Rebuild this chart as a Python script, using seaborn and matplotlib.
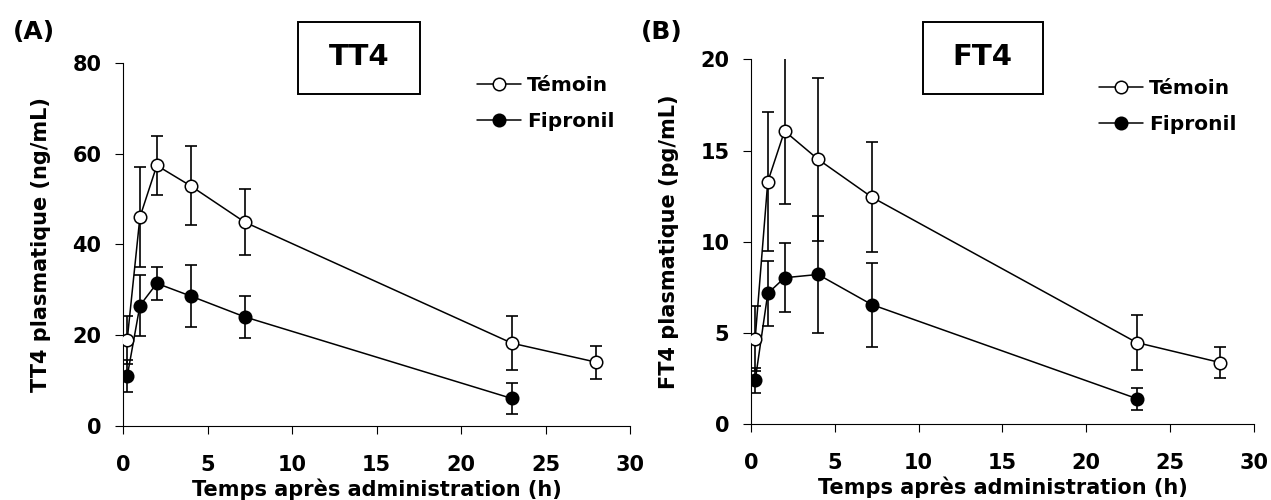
import numpy as np
import pandas as pd
import matplotlib
matplotlib.use("Agg")
import matplotlib.pyplot as plt
import seaborn as sns
from matplotlib.patches import Rectangle
from matplotlib.lines import Line2D

# ---------------- data ----------------
time_temoin = [0.25, 1, 2, 4, 7.2, 23, 28]
time_fipronil = [0.25, 1, 2, 4, 7.2, 23]

tt4_temoin = [19.0, 46.0, 57.4, 52.9, 44.9, 18.2, 14.0]
tt4_temoin_err = [5.3, 11.1, 6.6, 8.7, 7.3, 5.9, 3.6]
tt4_fipronil = [10.9, 26.5, 31.4, 28.6, 24.0, 6.0]
tt4_fipronil_err = [3.5, 6.7, 3.6, 6.8, 4.7, 3.5]

ft4_temoin = [4.70, 13.29, 16.07, 14.52, 12.45, 4.48, 3.38]
ft4_temoin_err = [1.8, 3.8, 4.0, 4.45, 3.0, 1.5, 0.85]
ft4_fipronil = [2.41, 7.17, 8.03, 8.21, 6.56, 1.41]
ft4_fipronil_err = [0.7, 1.8, 1.9, 3.2, 2.3, 0.6]

series_labels = ["Témoin", "Fipronil"]
panel_letters = ["(A)", "(B)"]
panel_titles = ["TT4", "FT4"]
ylabels = ["TT4 plasmatique (ng/mL)", "FT4 plasmatique (pg/mL)"]
xlabel = "Temps après administration (h)"
xticks = [0, 5, 10, 15, 20, 25, 30]
yticks_A = [0, 20, 40, 60, 80]
yticks_B = [0, 5, 10, 15, 20]

# ---------------- style ----------------
sns.set_style("ticks")
plt.rcParams["font.family"] = ["DejaVu Sans"]
plt.rcParams["font.weight"] = "bold"
plt.rcParams["axes.labelweight"] = "bold"
plt.rcParams["text.color"] = "black"
plt.rcParams["axes.labelcolor"] = "black"
plt.rcParams["xtick.color"] = "black"
plt.rcParams["ytick.color"] = "black"

W, H = 1271, 500
fig = plt.figure(figsize=(W / 100, H / 100), dpi=100)
fig.patch.set_facecolor("white")


def px(x0, y0, x1, y1):
    """pixel box (top-left origin) -> figure fraction [l, b, w, h]"""
    return [x0 / W, 1 - y1 / H, (x1 - x0) / W, (y1 - y0) / H]


axA = fig.add_axes(px(123, 63, 630.3, 425.7))
axB = fig.add_axes(px(751, 59.3, 1254, 424.3))

LW = 1.1
MS = 9


def draw(ax, tm, te, fm, fe, ylim, yticks, ylabel, ylab_x, xlab_y):
    df_t = pd.DataFrame({"t": time_temoin, "v": tm})
    df_f = pd.DataFrame({"t": time_fipronil, "v": fm})
    ax.errorbar(time_temoin, tm, yerr=te, fmt="none", ecolor="black",
                elinewidth=1.2, capsize=4.3, capthick=1.2, zorder=2)
    ax.errorbar(time_fipronil, fm, yerr=fe, fmt="none", ecolor="black",
                elinewidth=1.2, capsize=4.3, capthick=1.2, zorder=2)
    sns.lineplot(data=df_f, x="t", y="v", ax=ax, color="black", lw=LW,
                 marker="o", markersize=MS, markerfacecolor="black",
                 markeredgecolor="black", markeredgewidth=1.1, zorder=3,
                 legend=False)
    sns.lineplot(data=df_t, x="t", y="v", ax=ax, color="black", lw=LW,
                 marker="o", markersize=MS, markerfacecolor="white",
                 markeredgecolor="black", markeredgewidth=1.1, zorder=4,
                 legend=False)
    ax.set_xlim(0, 30)
    ax.set_ylim(*ylim)
    ax.set_xticks(xticks)
    ax.set_yticks(yticks)
    sns.despine(ax=ax)
    for s in ("left", "bottom"):
        ax.spines[s].set_linewidth(0.8)
        ax.spines[s].set_color("black")
    ax.tick_params(direction="out", length=5.5, width=0.8, color="black",
                   labelsize=15, labelcolor="black")
    ax.tick_params(axis="x", pad=15.5)
    ax.tick_params(axis="y", pad=10)
    for lab in ax.get_xticklabels() + ax.get_yticklabels():
        lab.set_fontweight("bold")
    ax.set_xlabel(xlabel, fontsize=15, fontweight="bold", va="center", color="black")
    ax.set_ylabel(ylabel, fontsize=15, fontweight="bold", va="center", color="black")
    ax.xaxis.set_label_coords(0.5, xlab_y)
    ax.yaxis.set_label_coords(ylab_x, 0.5)
    ax.set_facecolor("white")
    ax.grid(False)


draw(axA, tt4_temoin, tt4_temoin_err, tt4_fipronil, tt4_fipronil_err,
     (0, 80), yticks_A, ylabels[0], -0.161, -0.176)
draw(axB, ft4_temoin, ft4_temoin_err, ft4_fipronil, ft4_fipronil_err,
     (0, 20), yticks_B, ylabels[1], -0.163, -0.173)

# legends
handles = [
    Line2D([], [], color="black", lw=LW, marker="o", markersize=MS,
           markerfacecolor="white", markeredgecolor="black", markeredgewidth=1.1),
    Line2D([], [], color="black", lw=LW, marker="o", markersize=MS,
           markerfacecolor="black", markeredgecolor="black", markeredgewidth=1.1),
]
for ax, lx, ly in ((axA, 476.7, 76), (axB, 1099, 79)):
    leg = ax.legend(handles, series_labels, loc="upper left",
                    bbox_to_anchor=(lx / W, 1 - ly / H), bbox_transform=fig.transFigure,
                    frameon=False, borderpad=0, borderaxespad=0, handlelength=2.2,
                    handletextpad=0.3, labelspacing=0.85,
                    prop={"weight": "bold", "size": 14.5})
    for t in leg.get_texts():
        t.set_color("black")

# title boxes
for (x0, x1), title in zip(((298, 420), (922.7, 1043)), panel_titles):
    fig.patches.append(Rectangle((x0 / W, 1 - 94 / H), (x1 - x0) / W, 72 / H,
                                 transform=fig.transFigure, fill=False,
                                 edgecolor="black", lw=1.4))
    fig.text((x0 + x1) / 2 / W, 1 - 65 / H, title, ha="center", va="baseline",
             fontsize=21, fontweight="bold", color="black")

# panel letters
for x, letter in zip((34, 661.5), panel_letters):
    fig.text(x / W, 1 - 38.5 / H, letter, ha="center", va="baseline",
             fontsize=18, fontweight="bold", color="black")

fig.savefig("out.png", dpi=100, facecolor="white")
